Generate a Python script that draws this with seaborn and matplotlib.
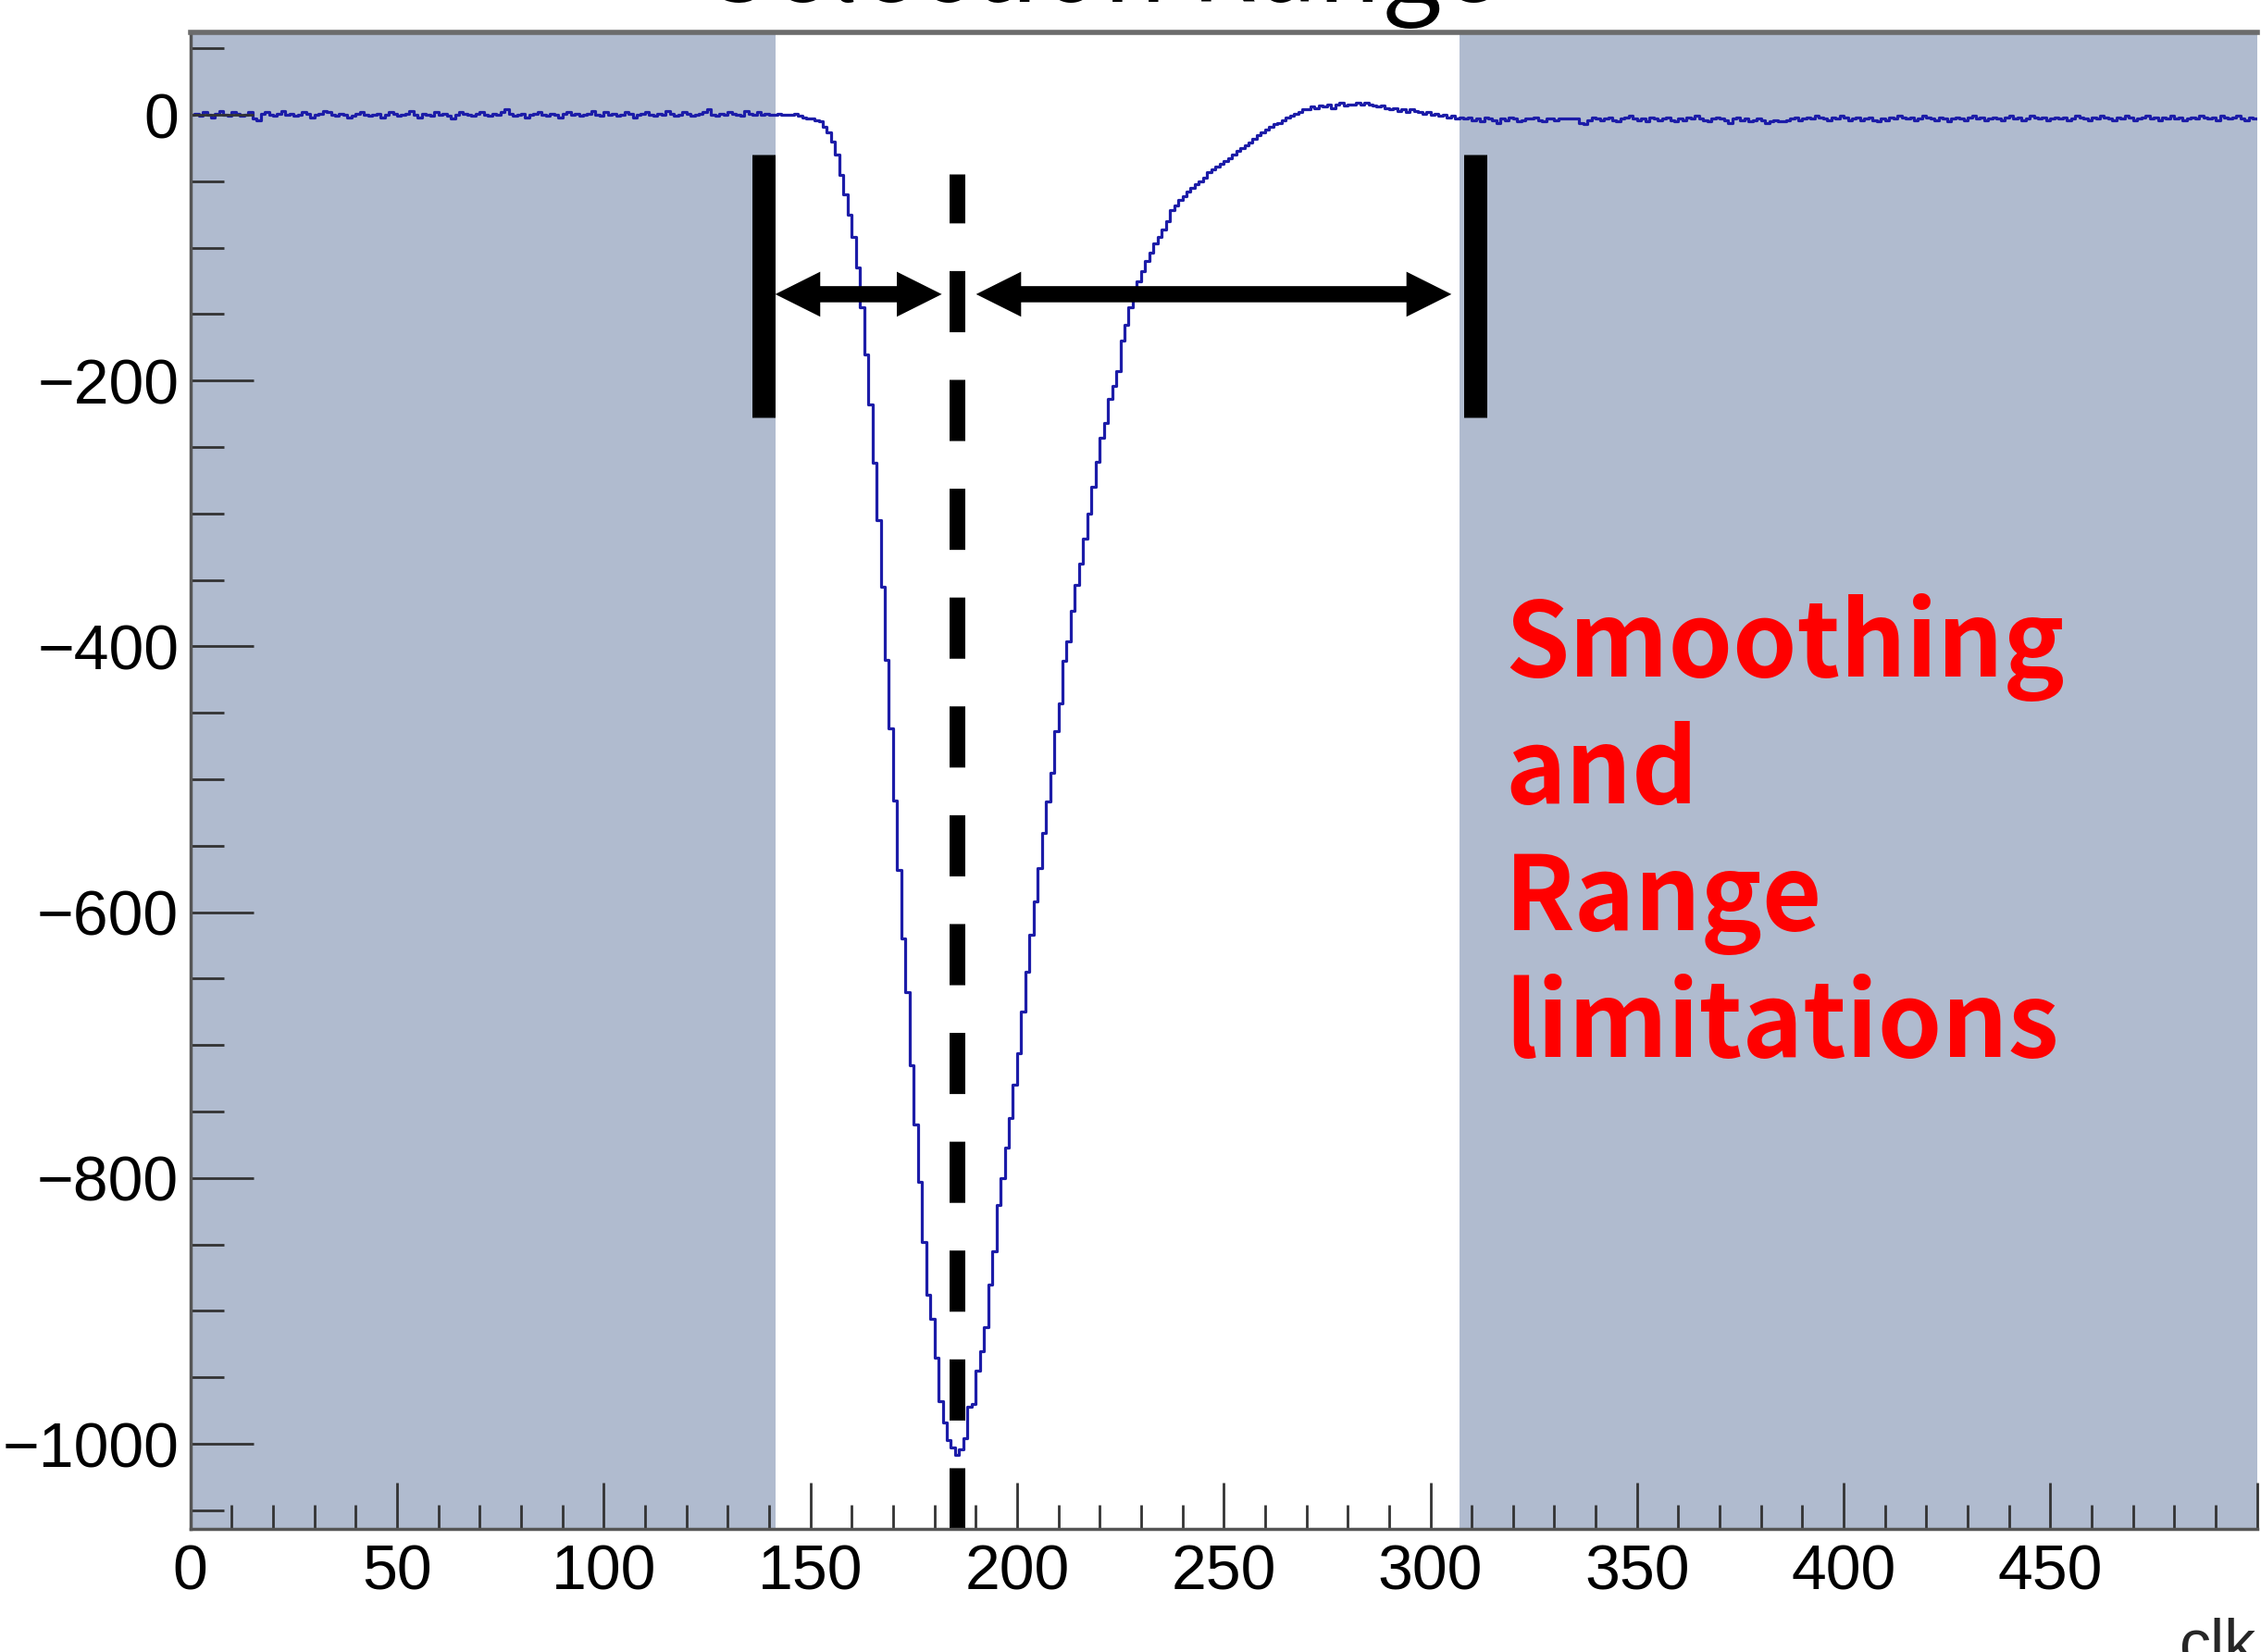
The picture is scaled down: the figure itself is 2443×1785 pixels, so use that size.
import matplotlib
matplotlib.use("Agg")
import matplotlib.pyplot as plt
import numpy as np
import pandas as pd
import seaborn as sns
from matplotlib.ticker import MultipleLocator

# waveform, one value per clk bin
baseline_pre = [  # clk 0-143
    0, 1, -1, 2, 0, -2, 1, 3, 0, -1, 2, 1,
    -1, 0, 2, -3, -4, 1, 2, 0, -1, 1, 3, 0,
    1, -1, 0, 2, 1, -2, 0, 1, 3, 2, 0, -1,
    1, 0, -2, -1, 1, 2, 0, -1, 0, 1, -2, 0,
    2, 1, -1, 0, 1, 3, 0, -2, 1, 0, -1, 2,
    0, 1, -1, -3, 0, 2, 1, 0, -1, 1, 2, 0,
    -1, 1, 0, 2, 4, 1, -1, 0, 1, -2, 0, 1,
    2, 0, -1, 1, 0, -2, 1, 2, 0, 1, -1, 0,
    1, 3, 0, -1, 2, 0, 1, -1, 0, 2, 1, -2,
    0, 1, 2, 0, -1, 1, 0, 3, 1, -1, 0, 2,
    1, -1, 0, 1, 2, 4, 0, -1, 1, 0, 2, 1,
    0, -1, 3, 1, 0, 2, 0, 1, 0, 0, 1, 0,
]
pulse = [  # clk 144-307
    0, 0, 1, -1, -2, -3, -3, -4, -5, -9,
    -13, -20, -30, -45, -60, -75, -92, -115, -145, -180,
    -218, -262, -305, -355, -410, -462, -516, -568, -620, -660,
    -715, -760, -803, -848, -888, -906, -935, -968, -984, -997,
    -1003, -1008, -1004, -996, -972, -970, -945, -930, -912, -880,
    -855, -820, -800, -777, -755, -730, -706, -675, -645, -617,
    -592, -567, -540, -517, -495, -464, -443, -411, -396, -373,
    -354, -338, -319, -300, -280, -261, -243, -232, -214, -204,
    -193, -170, -158, -145, -135, -125, -118, -110, -104, -97,
    -92, -86, -80, -72, -68, -64, -61, -58, -55, -52,
    -50, -47, -43, -41, -39, -37, -35, -33, -30, -27,
    -25, -23, -21, -18, -15, -13, -11, -9, -7, -6,
    -4, -2, -1, 1, 2, 4, 4, 6, 5, 7,
    6, 8, 5, 8, 9, 7, 8, 8, 9, 8,
    9, 8, 7, 6, 7, 5, 4, 5, 3, 4,
    2, 4, 3, 2, 1, 2, 0, 1, -1, 0,
    -2, -1, -3, -2,
]
baseline_post = [  # clk 308-499
    -3, -2, -4, -3, -5, -2, -3, -4, -6, -3, -4, -2,
    -3, -5, -4, -3, -3, -2, -4, -5, -3, -3, -4, -3,
    -3, -3, -3, -3, -6, -7, -4, -2, -3, -4, -3, -2,
    -4, -5, -3, -2, -1, -3, -4, -3, -5, -2, -3, -4,
    -3, -2, -4, -5, -3, -4, -2, -3, -1, -3, -4, -5,
    -3, -2, -3, -4, -6, -3, -2, -4, -3, -5, -4, -3,
    -4, -6, -5, -4, -5, -5, -4, -3, -2, -4, -3, -2,
    -3, -1, -2, -3, -4, -2, -3, -1, -2, -4, -3, -2,
    -4, -3, -2, -4, -5, -3, -4, -2, -3, -1, -2, -3,
    -2, -4, -3, -1, -2, -3, -4, -2, -3, -5, -3, -2,
    -3, -4, -2, -1, -3, -2, -4, -3, -2, -3, -4, -2,
    -1, -3, -2, -4, -3, -1, -2, -3, -2, -4, -3, -2,
    -3, -2, -4, -3, -1, -2, -3, -4, -2, -3, -1, -2,
    -3, -4, -2, -3, -1, -2, -4, -3, -2, -1, -3, -2,
    -4, -2, -3, -1, -3, -2, -4, -3, -2, -3, -1, -2,
    -3, -2, -4, -1, -2, -3, -2, -1, -3, -4, -2, -3,
]

# annotation geometry (data units)
shade_left = (0, 141.5)
shade_right = (307, 500)
window_bars = [138.7, 310.9]
bar_span = (-30, -228)
peak_clk = 185.5
dash_top = -44.6
arrow_y = -135
arrows = [(141.5, 181.8), (190.1, 305.1)]
note_lines = ["Smoothing", "and", "Range", "limitations"]
title = "Selection Range"

W, H = 2443, 1785

sns.set_theme(style="ticks")
plt.rcParams["font.family"] = ["Liberation Sans", "DejaVu Sans"]

adc = baseline_pre + pulse + baseline_post
df = pd.DataFrame({"clk": np.arange(len(adc) + 1), "adc": adc + [adc[-1]]})

fig = plt.figure(figsize=(W / 100, H / 100), dpi=100)
ax = fig.add_axes([205.7 / W, 1 - 1652 / H, 2233 / W, 1617 / H])
ax.set_axisbelow(False)

shade = "#B0BBCF"
ax.axvspan(*shade_left, color=shade, lw=0, zorder=1)
ax.axvspan(*shade_right, color=shade, lw=0, zorder=1)

sns.lineplot(data=df, x="clk", y="adc", drawstyle="steps-post", color="#1C1CA8",
             lw=2.3, ax=ax, zorder=2)

# selection window bars
for xb in window_bars:
    ax.plot([xb, xb], list(bar_span), color="black", lw=18, solid_capstyle="butt", zorder=4)

# peak position
ax.plot([peak_clk, peak_clk], [-1064, dash_top], color="black", lw=12.2,
        linestyle=(0, (3.9, 3.04)), dash_capstyle="butt", zorder=4)

# double arrows: two full-length single arrows pointing opposite ways
for x0, x1 in arrows:
    for end, start in ((x0, x1 - 8), (x1, x0 + 8)):
        ax.annotate("", xy=(end, arrow_y), xytext=(start, arrow_y),
                    arrowprops=dict(arrowstyle="simple,head_length=1,head_width=1,tail_width=0.35",
                                    mutation_scale=35, color="black", lw=0,
                                    shrinkA=0, shrinkB=0), zorder=4)

ax.set_xlim(0, 500)
ax.set_ylim(-1064, 62)
ax.xaxis.set_major_locator(MultipleLocator(50))
ax.xaxis.set_minor_locator(MultipleLocator(10))
ax.yaxis.set_major_locator(MultipleLocator(200))
ax.yaxis.set_minor_locator(MultipleLocator(50))
ax.set_xlabel("")
ax.set_ylabel("")
ax.xaxis.set_major_formatter(matplotlib.ticker.FuncFormatter(lambda v, p: f"{int(v)}" if v < 500 else ""))

ax.tick_params(axis="x", which="major", direction="in", length=36, width=2, color="#333333",
               labelsize=49, pad=11, labelcolor="black")
ax.tick_params(axis="x", which="minor", direction="in", length=19, width=2, color="#333333")
ax.tick_params(axis="y", which="major", direction="in", length=49, width=2, color="#333333",
               labelsize=49, pad=9, labelcolor="black")
ax.tick_params(axis="y", which="minor", direction="in", length=26, width=2, color="#333333")

for side in ["left", "bottom"]:
    ax.spines[side].set_linewidth(2.5)
    ax.spines[side].set_color("#555555")
ax.spines["top"].set_linewidth(4)
ax.spines["top"].set_color("#6B6B6B")
ax.spines["right"].set_visible(False)
for s in ax.spines.values():
    s.set_zorder(5)

fig.text(2437 / W, 1 - 1747 / H, "clk", ha="right", va="top", fontsize=49)

for i, line in enumerate(note_lines):
    fig.text(1626 / W, 1 - (731 + 137 * i) / H, line, ha="left", va="baseline",
             fontsize=80, fontweight="bold", color="#FF0000",
             family=["Noto Sans CJK JP", "DejaVu Sans"])

fig.text(1192 / W, 1 - 2 / H, title, ha="center", va="baseline", fontsize=82,
         family=["Noto Sans CJK JP", "DejaVu Sans"], color="black")

fig.savefig("out.png", dpi=100)
plt.close(fig)
